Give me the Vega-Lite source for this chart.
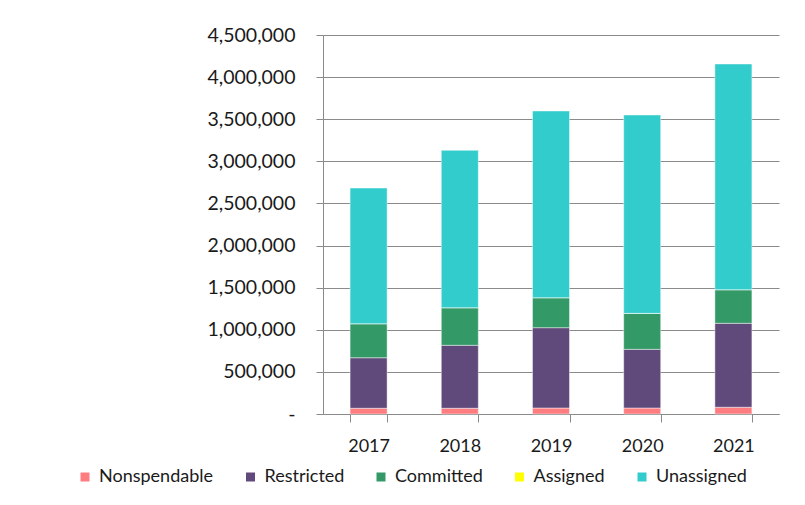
{
  "$schema": "https://vega.github.io/schema/vega-lite/v6.json",
  "width": 456,
  "height": 379,
  "autosize": {"type": "none"},
  "padding": {"left": 323, "top": 35, "right": 26, "bottom": 91},
  "background": "#ffffff",
  "config": {
    "view": {"stroke": null},
    "font": "Lato",
    "axis": {"labelFont": "Lato", "labelColor": "#1a1a1a", "domainColor": "#8a8a8a", "tickColor": "#8a8a8a", "gridColor": "#8a8a8a", "titleFont": "Lato"},
    "legend": {"labelFont": "Lato", "labelColor": "#1a1a1a"}
  },
  "data": {
    "values": [
      {"year": "2017", "category": "Nonspendable", "amount": 68000},
      {"year": "2017", "category": "Restricted", "amount": 600000},
      {"year": "2017", "category": "Committed", "amount": 404000},
      {"year": "2017", "category": "Assigned", "amount": 0},
      {"year": "2017", "category": "Unassigned", "amount": 1611000},
      {"year": "2018", "category": "Nonspendable", "amount": 68000},
      {"year": "2018", "category": "Restricted", "amount": 748000},
      {"year": "2018", "category": "Committed", "amount": 446000},
      {"year": "2018", "category": "Assigned", "amount": 0},
      {"year": "2018", "category": "Unassigned", "amount": 1869000},
      {"year": "2019", "category": "Nonspendable", "amount": 71000},
      {"year": "2019", "category": "Restricted", "amount": 954000},
      {"year": "2019", "category": "Committed", "amount": 356000},
      {"year": "2019", "category": "Assigned", "amount": 0},
      {"year": "2019", "category": "Unassigned", "amount": 2217000},
      {"year": "2020", "category": "Nonspendable", "amount": 71000},
      {"year": "2020", "category": "Restricted", "amount": 697000},
      {"year": "2020", "category": "Committed", "amount": 427000},
      {"year": "2020", "category": "Assigned", "amount": 0},
      {"year": "2020", "category": "Unassigned", "amount": 2355000},
      {"year": "2021", "category": "Nonspendable", "amount": 80000},
      {"year": "2021", "category": "Restricted", "amount": 997000},
      {"year": "2021", "category": "Committed", "amount": 399000},
      {"year": "2021", "category": "Assigned", "amount": 0},
      {"year": "2021", "category": "Unassigned", "amount": 2680000}
    ]
  },
  "transform": [
    {"calculate": "indexof(['Nonspendable','Restricted','Committed','Assigned','Unassigned'], datum.category)", "as": "stackOrder"}
  ],
  "mark": {"type": "bar", "stroke": "#ffffff", "strokeWidth": 1, "strokeOpacity": 0.45},
  "encoding": {
    "x": {
      "field": "year",
      "type": "nominal",
      "scale": {"paddingInner": 0.594, "paddingOuter": 0.297},
      "axis": {
        "title": null,
        "labelAngle": 0,
        "labelFontSize": 18,
        "labelPadding": 15,
        "tickBand": "extent",
        "tickSize": 8,
        "ticks": true,
        "domain": true,
        "grid": false
      }
    },
    "y": {
      "field": "amount",
      "type": "quantitative",
      "stack": "zero",
      "scale": {"domain": [0, 4500000], "nice": false},
      "axis": {
        "title": null,
        "values": [0, 500000, 1000000, 1500000, 2000000, 2500000, 3000000, 3500000, 4000000, 4500000],
        "labelExpr": "datum.value == 0 ? '-' : format(datum.value, ',')",
        "labelFontSize": 19.5,
        "labelPadding": 21,
        "tickSize": 7,
        "grid": true,
        "domain": true
      }
    },
    "order": {"field": "stackOrder", "type": "quantitative", "sort": "ascending"},
    "color": {
      "field": "category",
      "type": "nominal",
      "sort": ["Nonspendable", "Restricted", "Committed", "Assigned", "Unassigned"],
      "scale": {
        "domain": ["Nonspendable", "Restricted", "Committed", "Assigned", "Unassigned"],
        "range": ["#ff7c80", "#604a7b", "#339966", "#ffff00", "#33cccc"]
      },
      "legend": {
        "title": null,
        "orient": "none",
        "direction": "horizontal",
        "legendX": -247,
        "legendY": 433,
        "symbolType": "square",
        "symbolSize": 81,
        "symbolStrokeWidth": 0,
        "labelFontSize": 18,
        "labelOffset": 5,
        "columnPadding": 27.5
      }
    }
  }
}
